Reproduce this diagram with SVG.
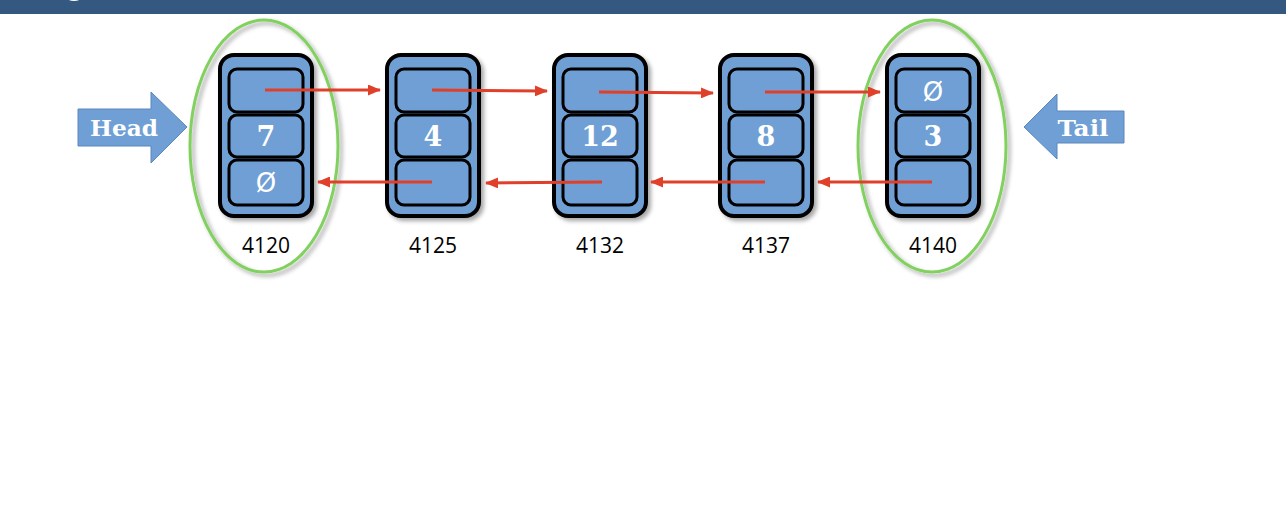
<svg xmlns="http://www.w3.org/2000/svg" width="1286" height="522" viewBox="0 0 1286 522">
<defs>
<style>
.outer{fill:#6f9fd4;stroke:#000;stroke-width:4}
.cell{fill:#6f9fd4;stroke:#000;stroke-width:3}
.num{font-family:"DejaVu Serif","Liberation Serif",serif;font-weight:bold;font-size:27px;fill:#fff;text-anchor:middle}
.nul{font-family:"DejaVu Sans","Liberation Sans",sans-serif;font-size:26px;fill:#fff;text-anchor:middle}
.addr{font-family:"Open Sans","Liberation Sans",sans-serif;font-size:21px;fill:#000;text-anchor:middle}
.lnk{stroke:#e0402a;stroke-width:3;fill:none}
.ring{fill:none;stroke:#82d160;stroke-width:3}
.blk{fill:#6f9fd4;stroke:#5b86bd;stroke-width:1}
.lbl{font-family:"DejaVu Serif","Liberation Serif",serif;font-weight:bold;font-size:23px;fill:#fff;text-anchor:middle}
</style>
<marker id="ah" markerWidth="13" markerHeight="11" refX="12" refY="5.5" orient="auto" markerUnits="userSpaceOnUse">
<path d="M0,0 L13,5.5 L0,11 Z" fill="#e0402a"/>
</marker>
<filter id="sh" x="-20%" y="-20%" width="140%" height="140%">
<feDropShadow dx="3" dy="3" stdDeviation="2" flood-color="#000" flood-opacity="0.35"/>
</filter>
</defs>
<rect x="0" y="0" width="1286" height="14" fill="#34587f"/>
<ellipse cx="74" cy="-6" rx="10" ry="7" fill="#fff"/>

<g id="head">
<path class="blk" d="M78,109 H151 V92 L187,127 L151,163 V146 H78 Z"/>
<text class="lbl" x="124" y="136" textLength="68" lengthAdjust="spacingAndGlyphs">Head</text>
</g>
<g id="tail">
<path class="blk" d="M1124,111 H1057 V94 L1024,127 L1057,159 V143 H1124 Z"/>
<text class="lbl" x="1083" y="136" textLength="51" lengthAdjust="spacingAndGlyphs">Tail</text>
</g>

<g id="node4120">
<rect class="outer" x="220" y="55" width="92" height="161" rx="14" filter="url(#sh)"/>
<rect class="cell" x="229" y="69" width="74" height="43" rx="8"/>
<rect class="cell" x="229" y="115" width="74" height="42" rx="8"/>
<rect class="cell" x="229" y="160" width="74" height="45" rx="8"/>
<text class="num" x="266" y="146">7</text>
<text class="nul" x="266" y="192">Ø</text>
<text class="addr" x="266" y="253">4120</text>
</g>
<g id="node4125">
<rect class="outer" x="387" y="55" width="92" height="161" rx="14" filter="url(#sh)"/>
<rect class="cell" x="396" y="69" width="74" height="43" rx="8"/>
<rect class="cell" x="396" y="115" width="74" height="42" rx="8"/>
<rect class="cell" x="396" y="160" width="74" height="45" rx="8"/>
<text class="num" x="433" y="146">4</text>
<text class="addr" x="433" y="253">4125</text>
</g>
<g id="node4132">
<rect class="outer" x="554" y="55" width="92" height="161" rx="14" filter="url(#sh)"/>
<rect class="cell" x="563" y="69" width="74" height="43" rx="8"/>
<rect class="cell" x="563" y="115" width="74" height="42" rx="8"/>
<rect class="cell" x="563" y="160" width="74" height="45" rx="8"/>
<text class="num" x="600" y="146">12</text>
<text class="addr" x="600" y="253">4132</text>
</g>
<g id="node4137">
<rect class="outer" x="720" y="55" width="92" height="161" rx="14" filter="url(#sh)"/>
<rect class="cell" x="729" y="69" width="74" height="43" rx="8"/>
<rect class="cell" x="729" y="115" width="74" height="42" rx="8"/>
<rect class="cell" x="729" y="160" width="74" height="45" rx="8"/>
<text class="num" x="766" y="146">8</text>
<text class="addr" x="766" y="253">4137</text>
</g>
<g id="node4140">
<rect class="outer" x="887" y="55" width="92" height="161" rx="14" filter="url(#sh)"/>
<rect class="cell" x="896" y="69" width="74" height="43" rx="8"/>
<rect class="cell" x="896" y="115" width="74" height="42" rx="8"/>
<rect class="cell" x="896" y="160" width="74" height="45" rx="8"/>
<text class="nul" x="933" y="101">Ø</text>
<text class="num" x="933" y="146">3</text>
<text class="addr" x="933" y="253">4140</text>
</g>

<g id="rings">
<ellipse class="ring" cx="264" cy="146" rx="74" ry="126" filter="url(#sh)"/>
<ellipse class="ring" cx="932" cy="146" rx="74" ry="126" filter="url(#sh)"/>
</g>

<g id="connectors">
<line class="lnk" x1="265" y1="90" x2="380" y2="90" marker-end="url(#ah)"/>
<line class="lnk" x1="432" y1="90" x2="547" y2="91" marker-end="url(#ah)"/>
<line class="lnk" x1="599" y1="92" x2="713" y2="93" marker-end="url(#ah)"/>
<line class="lnk" x1="765" y1="92" x2="880" y2="92" marker-end="url(#ah)"/>
<line class="lnk" x1="432" y1="182" x2="318" y2="182" marker-end="url(#ah)"/>
<line class="lnk" x1="602" y1="182" x2="486" y2="183" marker-end="url(#ah)"/>
<line class="lnk" x1="765" y1="182" x2="651" y2="182" marker-end="url(#ah)"/>
<line class="lnk" x1="932" y1="182" x2="818" y2="182" marker-end="url(#ah)"/>
</g>
</svg>
